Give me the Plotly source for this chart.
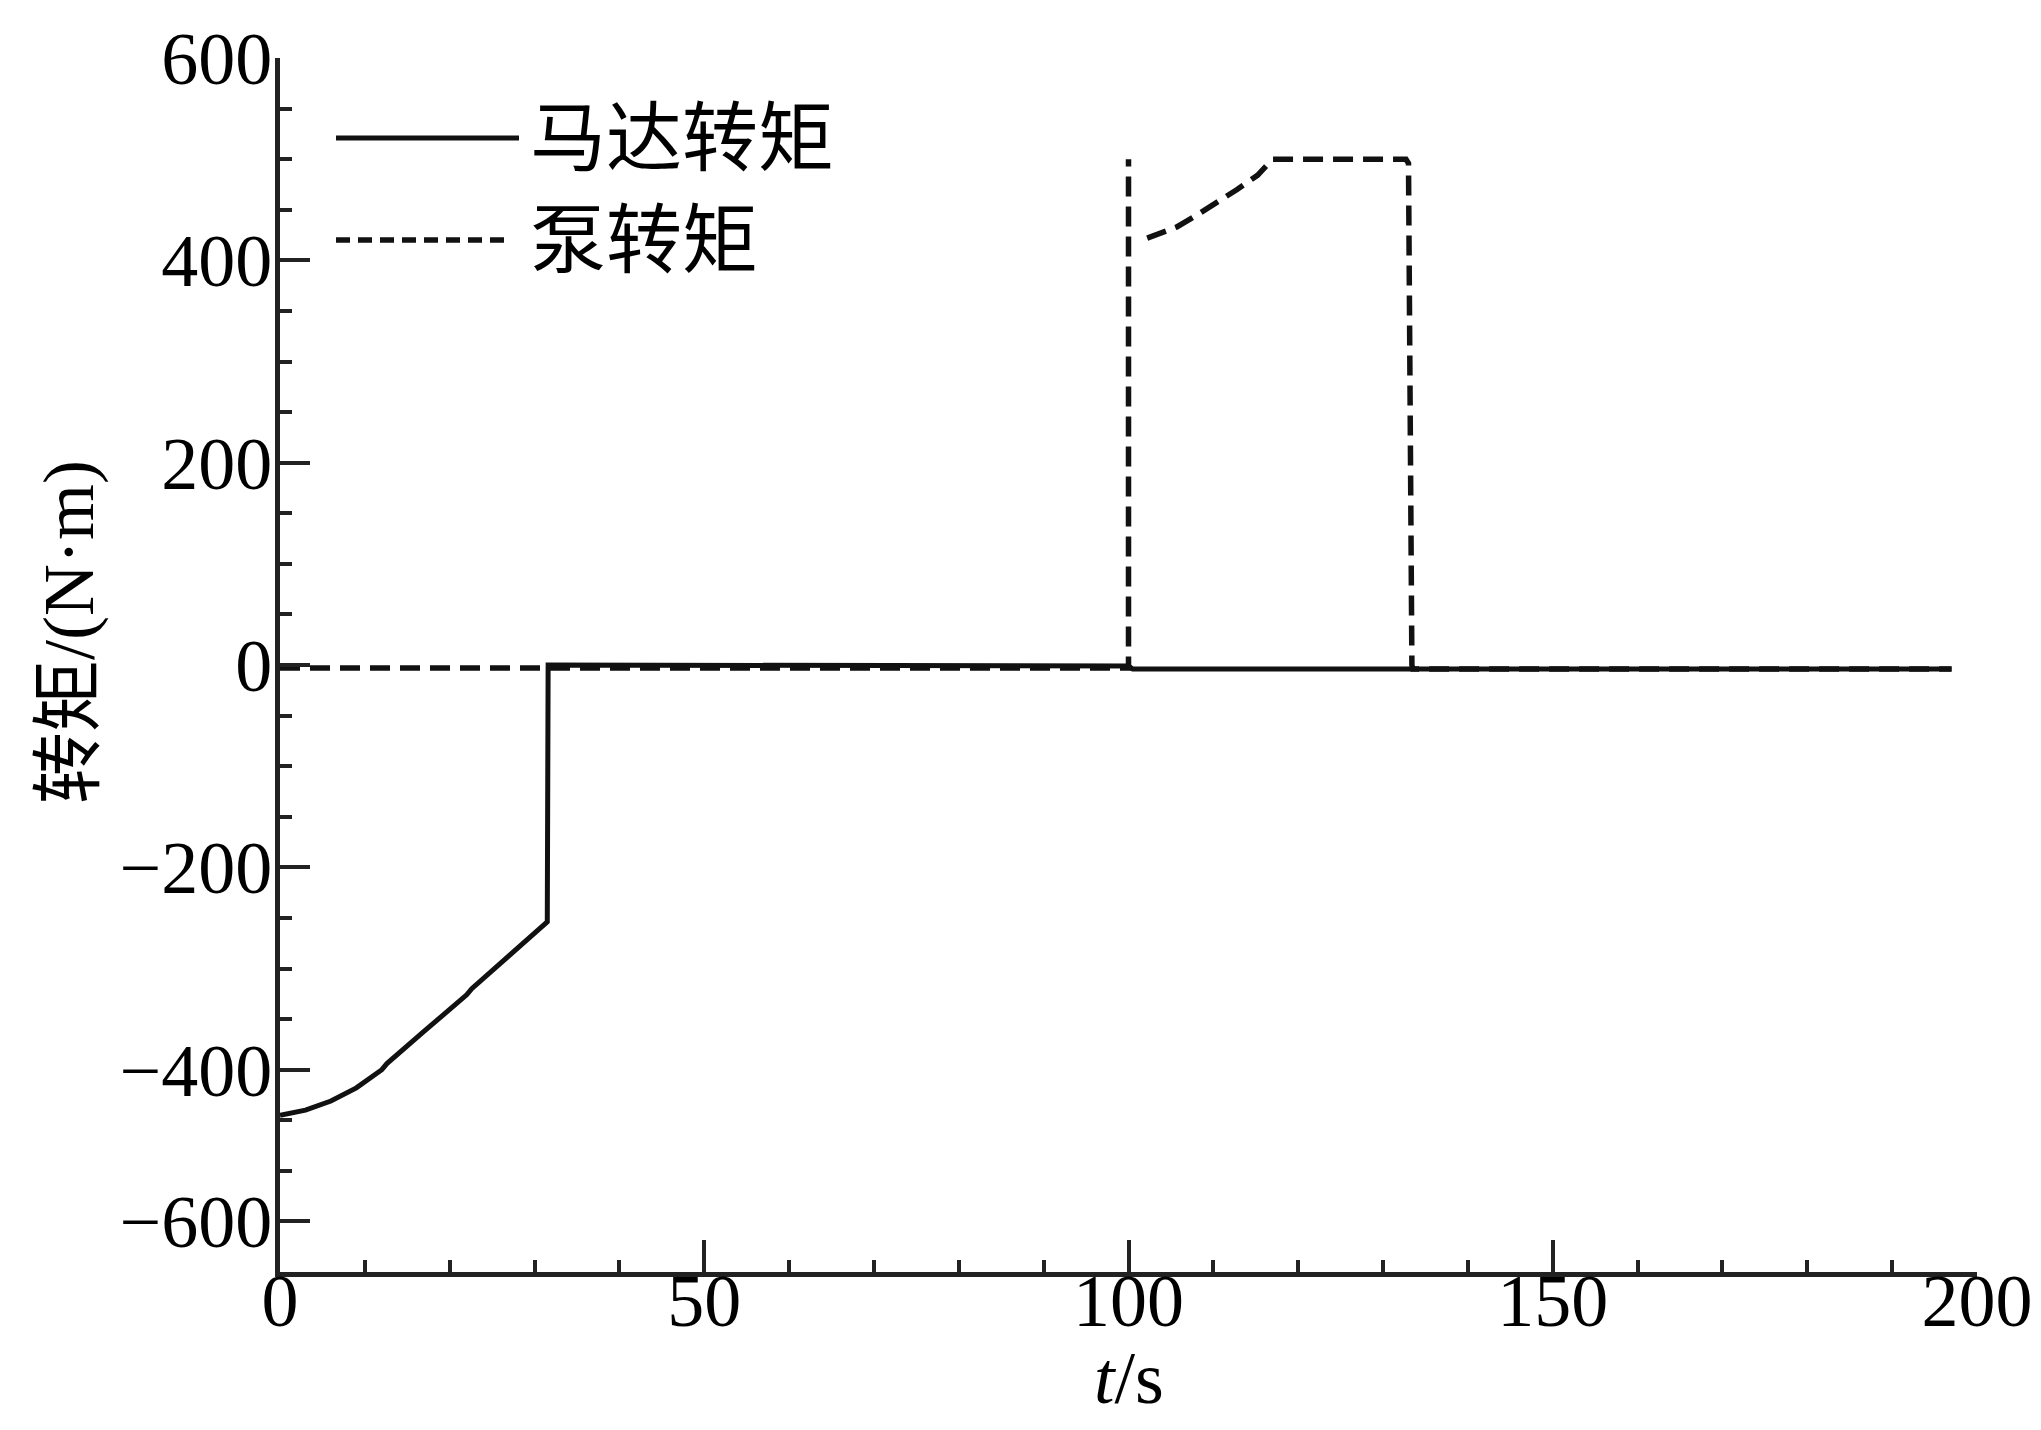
import plotly.graph_objects as go

# ---- data ----
motor_t = [0, 3, 6, 9, 12, 12.6, 17, 22, 22.6, 27, 31.5, 31.6, 60, 100, 100.5, 150, 197]
motor_v = [-445, -440, -431, -418, -400, -394, -362, -326, -320, -288, -254, 0, 0, -1, -4, -4, -4]

pump_t = [0, 31.5, 100, 100, None, 102.2, 105.7, 108.1, 110.5, 112.8, 115.2, 117.0, 132.7, 133.0, 133.4, 133.5, 197]
pump_v = [-3, -3, -3, 500, None, 422, 433, 445, 457, 470, 484, 500, 500, 496, 0, -4, -4]

y_tickvals = [600, 400, 200, 0, -200, -400, -550]
y_ticktext = ["600", "400", "200", "0", "\u2212200", "\u2212400", "\u2212600"]
x_tickvals = [0, 50, 100, 150, 200]
x_ticktext = ["0", "50", "100", "150", "200"]

legend_names = ["马达转矩", "泵转矩"]

SERIF = "Liberation Serif, Times New Roman, Noto Sans CJK SC, serif"
CJK = "Noto Sans CJK SC, Liberation Serif, serif"

fig = go.Figure()
fig.add_trace(go.Scatter(x=pump_t, y=pump_v, mode="lines", name=legend_names[1],
                         line=dict(color="#111111", width=5.5, dash="20px,10px"),
                         connectgaps=False, showlegend=False))
fig.add_trace(go.Scatter(x=motor_t, y=motor_v, mode="lines", name=legend_names[0],
                         line=dict(color="#111111", width=5), showlegend=False))

# page body has an 8px default margin; size figure so the page is exactly 2041x1430
OFF = 8
W, H = 2041 - 2 * OFF, 1430 - 2 * OFF
# plot-area geometry in screen pixels
L, R, T, B = 280, 1977, 58, 1272
def px(xp):
    return (xp - L) / (R - L)
def py(yp):
    return (B - yp) / (B - T)

# custom legend (long line samples as in the reference)
fig.add_shape(type="line", xref="paper", yref="paper", x0=px(336), x1=px(519), y0=py(138), y1=py(138),
              line=dict(color="#111111", width=5))
fig.add_shape(type="line", xref="paper", yref="paper", x0=px(336), x1=px(508), y0=py(240), y1=py(240),
              line=dict(color="#111111", width=5.5, dash="14px,8px"))
fig.add_annotation(xref="paper", yref="paper", x=px(528), y=py(132), xanchor="left", yanchor="middle",
                   text=legend_names[0], showarrow=False, font=dict(family=CJK, size=76, color="black"))
fig.add_annotation(xref="paper", yref="paper", x=px(528), y=py(234), xanchor="left", yanchor="middle",
                   text=legend_names[1], showarrow=False, font=dict(family=CJK, size=76, color="black"))

# y-axis title
fig.add_annotation(xref="paper", yref="paper", x=px(61), y=py(632), xanchor="center", yanchor="middle",
                   text="<span style='font-family:Noto Sans CJK SC'>转矩</span>/(N·m)", textangle=-90,
                   showarrow=False, font=dict(family=SERIF, size=72, color="black"))

# x-axis title
fig.add_annotation(xref="paper", yref="paper", x=0.5, y=py(1421), xanchor="center", yanchor="bottom",
                   text="<i>t</i>/s", showarrow=False, font=dict(family=SERIF, size=74, color="black"))

fig.update_layout(
    width=W, height=H,
    margin=dict(l=L - OFF, r=W - (R - OFF), t=T - OFF, b=H - (B - OFF), autoexpand=False),
    paper_bgcolor="white", plot_bgcolor="white",
    showlegend=False,
)
fig.update_xaxes(
    range=[0, 200], tickmode="array", tickvals=x_tickvals, ticktext=x_ticktext,
    automargin=False, ticklabeloverflow="allow",
    showgrid=False, zeroline=False, showline=True, linecolor="#222222", linewidth=5,
    ticks="inside", ticklen=32, tickwidth=4, tickcolor="#222222",
    minor=dict(tickmode="linear", tick0=0, dtick=10, ticks="inside", ticklen=12, tickwidth=4, tickcolor="#222222"),
    tickfont=dict(family=SERIF, size=74, color="black"),
    ticklabelstandoff=-40,
)
fig.update_yaxes(
    range=[-600, 600], tickmode="array", tickvals=y_tickvals, ticktext=y_ticktext,
    automargin=False, ticklabeloverflow="allow",
    showgrid=False, zeroline=False, showline=True, linecolor="#222222", linewidth=5,
    ticks="inside", ticklen=30, tickwidth=4, tickcolor="#222222",
    minor=dict(tickmode="linear", tick0=0, dtick=50, ticks="inside", ticklen=12, tickwidth=4, tickcolor="#222222"),
    tickfont=dict(family=SERIF, size=74, color="black"),
    ticklabelstandoff=-12,
)

fig.write_html("out.html")
